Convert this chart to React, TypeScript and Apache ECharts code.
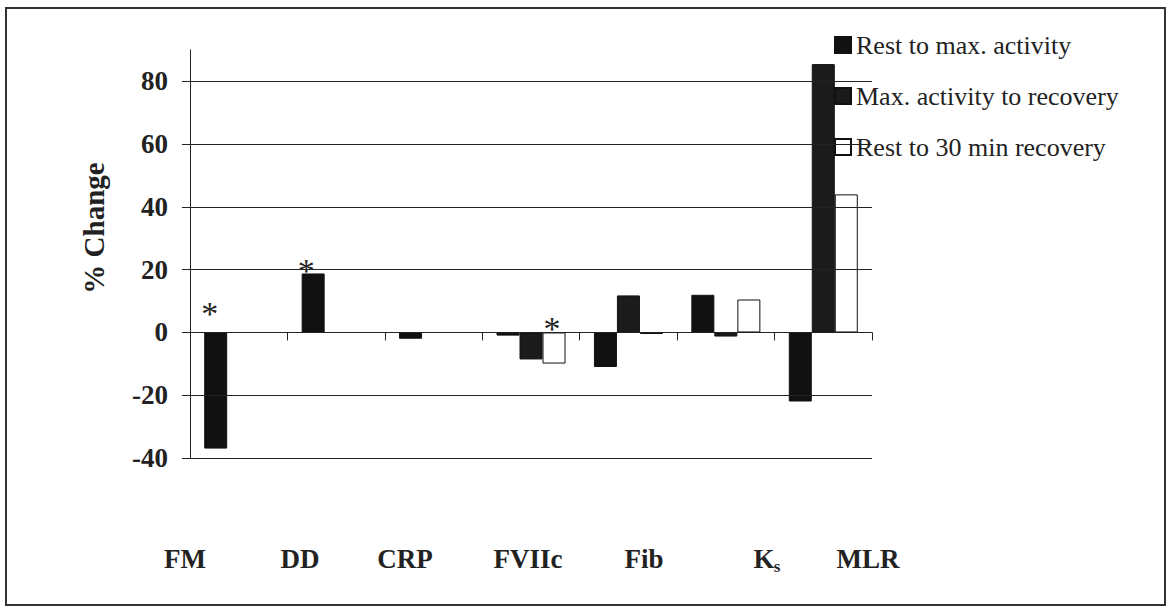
import React, { useEffect, useRef } from 'react';
import * as echarts from 'echarts';

const categories = ['FM', 'DD', 'CRP', 'FVIIc', 'Fib', 'Ks', 'MLR'];
const seriesNames = ['Rest to max. activity', 'Max. activity to recovery', 'Rest to 30 min recovery'];
const restToMax = [-37, 18.8, -2, -1, -11, 12, -22];
const maxToRecovery: (number | null)[] = [null, null, null, -8.6, 11.8, -1.3, 85.5];
const restTo30: (number | null)[] = [null, null, null, -9.9, -0.5, 10.5, 44];
const yTicks = [-40, -20, 0, 20, 40, 60, 80];
// [seriesIndex, categoryIndex] of the bars marked with an asterisk
const starred = [[0, 0], [0, 1], [2, 3]];
// fine placement of each asterisk relative to its bar end (px)
const starOffsets = [[-6, -2], [-7, 14], [-2, 13]];

// layout of the free-standing category captions (x centre in px)
const captionX = [185, 300, 405, 528, 644, 768, 868];

const FONT = "'Liberation Serif', 'Times New Roman', serif";

export default function App() {
  const ref = useRef<HTMLDivElement>(null);
  useEffect(() => {
    if (!ref.current) return;
    const chart = echarts.init(ref.current, undefined, { renderer: 'svg' });

    const fills = ['#111', '#1b1b1b', '#ffffff'];
    const allData = [restToMax, maxToRecovery, restTo30];

    const series: any[] = allData.map((arr, si) => ({
      name: seriesNames[si],
      type: 'bar',
      barWidth: 23,
      barGap: '0%',
      clip: false,
      itemStyle: { color: fills[si], borderColor: '#111', borderWidth: 1 },
      data: arr.map((v, ci) => {
        const k = starred.findIndex(([s, c]) => s === si && c === ci);
        if (k < 0 || v === null) return v;
        return {
          value: v,
          label: {
            show: true,
            position: 'top',
            formatter: '*',
            fontFamily: FONT,
            fontSize: 34,
            color: '#222',
            distance: 0,
            offset: starOffsets[k],
          },
        };
      }),
    }));
    series[0].markLine = {
      silent: true,
      symbol: 'none',
      label: { show: false },
      lineStyle: { color: '#222', width: 1, type: 'solid' },
      data: yTicks.map((t) => ({ yAxis: t })),
    };

    const graphics: any[] = [
      {
        type: 'rect',
        shape: { x: 6, y: 8, width: 1159, height: 597 },
        style: { fill: 'none', stroke: '#333', lineWidth: 2 },
      },
      {
        type: 'text',
        x: 94,
        y: 228,
        rotation: Math.PI / 2,
        style: {
          text: '% Change',
          font: `bold 29px ${FONT}`,
          fill: '#222',
          align: 'center',
          verticalAlign: 'middle',
        },
      },
    ];
    categories.forEach((c, i) => {
      if (c === 'Ks') {
        graphics.push({
          type: 'text',
          x: captionX[i] - 4,
          y: 559,
          style: { text: 'K', font: `bold 27px ${FONT}`, fill: '#222', align: 'center', verticalAlign: 'middle' },
        });
        graphics.push({
          type: 'text',
          x: captionX[i] + 9,
          y: 566,
          style: { text: 's', font: `bold 17px ${FONT}`, fill: '#222', align: 'center', verticalAlign: 'middle' },
        });
      } else {
        graphics.push({
          type: 'text',
          x: captionX[i],
          y: 559,
          style: { text: c, font: `bold 27px ${FONT}`, fill: '#222', align: 'center', verticalAlign: 'middle' },
        });
      }
    });

    chart.setOption({
      animation: false,
      backgroundColor: '#fff',
      textStyle: { fontFamily: FONT },
      grid: { left: 190, right: 295, top: 50, bottom: 149, containLabel: false },
      legend: {
        orient: 'vertical',
        left: 829,
        top: 27,
        itemWidth: 16,
        itemHeight: 16,
        itemGap: 25,
        icon: 'rect',
        textStyle: { fontFamily: FONT, fontSize: 26, color: '#222' },
        data: seriesNames,
      },
      xAxis: {
        type: 'category',
        data: categories,
        axisLine: { onZero: true, lineStyle: { color: '#222', width: 1 } },
        axisTick: { show: true, length: 8, lineStyle: { color: '#222' } },
        axisLabel: { show: false },
        splitLine: { show: false },
      },
      yAxis: {
        type: 'value',
        min: -40,
        max: 90,
        interval: 10,
        axisLine: { show: true, lineStyle: { color: '#222', width: 1 } },
        axisTick: { show: true, length: 8, customValues: yTicks, lineStyle: { color: '#222' } },
        axisLabel: {
          customValues: yTicks,
          margin: 22,
          fontFamily: FONT,
          fontWeight: 'bold',
          fontSize: 27,
          color: '#222',
        },
        splitLine: { show: false },
      },
      graphic: graphics,
      series,
    });
    return () => chart.dispose();
  }, []);
  return (
    <div
      ref={ref}
      style={{ position: 'fixed', left: 0, top: 0, width: 1167, height: 607, background: '#fff' }}
    />
  );
}
